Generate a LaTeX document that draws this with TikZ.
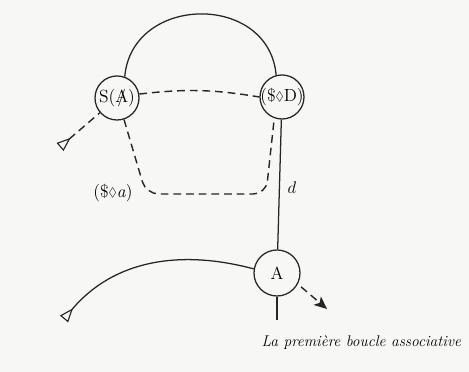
\documentclass[tikz,border=0pt]{standalone}
\usepackage{amsmath,amssymb}
\usepackage{tikz}
\usetikzlibrary{arrows.meta,positioning,calc}
\definecolor{paper}{HTML}{F7F7F5}
\definecolor{ink}{HTML}{262626}
\newcommand{\barA}{\ooalign{A\cr\hidewidth/\hidewidth}}
\newcommand{\lozg}{\raisebox{0.15ex}{$\scriptstyle\lozenge$}}
\tikzset{
  knot/.style={draw=ink,circle,line width=0.9pt,
               minimum size=1.1cm,inner sep=-1pt,
               font=\fontsize{12.5}{14}\selectfont},
  tag/.style={font=\fontsize{12.5}{14}\selectfont,inner sep=1pt},
  chain/.style={draw=ink,line width=0.9pt},
  dashchain/.style={draw=ink,line width=1pt,dash pattern=on 5.5pt off 3.5pt},
  opentri/.style={arrows={Triangle[open,reversed,length=3.5mm,width=2.6mm,line width=0.8pt]-}},
  exitarr/.style={arrows={-Stealth[length=3.2mm,width=2.8mm,inset=0.8mm]}}
}

\begin{document}
\begin{tikzpicture}[x=0.025cm,y=0.025cm]
  \fill[paper] (0,0) rectangle (469,372);
  \useasboundingbox (0,0) rectangle (469,372);

  \node[knot] (SA) at (117,274) {S(\barA)};
  \node[knot] (SD) at (282,275) {(\$\lozg D)};
  \node[knot,minimum size=1.15cm] (A) at (277,99) {A};

  \coordinate (inL) at (64,53);
  \coordinate (inU) at (60,225);
  \coordinate (down) at (277,52);
  \coordinate (out) at (327,63);

  % solid chains
  \draw[chain] (SA.70) to[out=85,in=95,looseness=1.4] (SD.105);
  \draw[chain] (SD) -- (A);
  \draw[chain] (A) -- (down);
  \draw[chain,opentri] (inL) to[out=50,in=165] (A.170);

  % dashed return
  \draw[dashchain] (SA.10) to[bend left=8] (SD.west);
  \draw[dashchain,rounded corners=9pt] (SA.288) -- (146,178) -- (266,178) -- (SD.250);
  \draw[dashchain,opentri] (inU) -- (SA);
  \draw[dashchain,exitarr,shorten <=3pt] (A.-28) -- (out);

  \node[tag] (sdiama) at (113,179) {(\$\lozg\textit{a})};
  \node[tag] (dlab) at (292,184) {$d$};
  \node[anchor=east,font=\itshape\fontsize{11}{13}\selectfont] (caption) at (466,29) {La première boucle associative};
\end{tikzpicture}
\end{document}
